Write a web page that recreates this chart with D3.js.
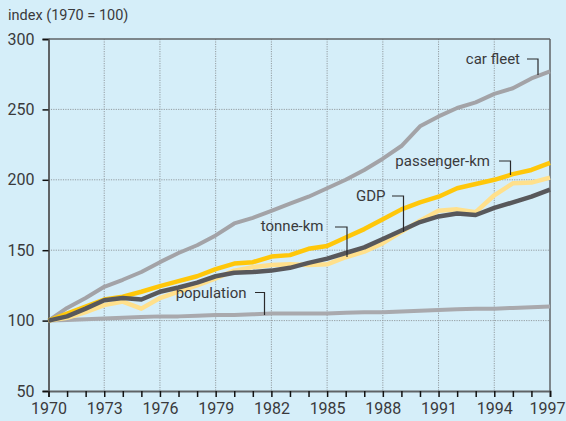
<!DOCTYPE html>
<html><head><meta charset="utf-8">
<script src="https://cdn.jsdelivr.net/npm/d3@7"></script>
<style>
html,body{margin:0;padding:0;background:#d5eef9;}
svg{display:block;}
text{font-family:Roboto,"Open Sans",sans-serif;fill:#3a3a3c;}
</style></head>
<body>
<svg id="chart" width="566" height="421"></svg>
<script>
const years = d3.range(1970, 1998);
const carFleet     = [100,109,116,124,129,134.5,141.5,148,153.5,160.5,169,173,178,183,188,194,200,207,215,224,238,245,251,255,261,265,272,277];
const passengerKm  = [100,105,110,115,117,120.5,124.5,128,131.5,136.5,140.5,141.5,145.5,146.5,151,153,159,165,172,179,184,188,194,197,200,204,207,212];
const gdp          = [100,103,108.5,114.5,116,115,120.5,123.5,127,131.5,134,134.5,135.5,137.5,141,144,148,152,158,164,170,174,176,175,180,184,188,193];
const tonneKm      = [100,102,106,111,113.5,108.5,116,120.5,125,130,135.5,138,139.5,140,139.5,140,145,149,155,163,171,178,179,177,189,197.5,198,201.5];
const population   = [100,100.5,101,101.5,102,102.5,103,103,103.5,104,104,104.5,105,105,105,105,105.5,106,106,106.5,107,107.5,108,108.5,108.5,109,109.5,110];
const yTicks = [50,100,150,200,250,300];
const xTickLabels = [1970,1973,1976,1979,1982,1985,1988,1991,1994,1997];

const svg = d3.select("#chart");
const L = 48.5, R = 550, T = 39, B = 391;
const x = d3.scaleLinear().domain([1970,1997]).range([L,R]);
const y = d3.scaleLinear().domain([50,300]).range([B,T]);

// grid
const g = svg.append("g");
g.selectAll(".hg").data([100,150,200,250]).join("line")
  .attr("x1",L).attr("x2",R).attr("y1",d=>y(d)).attr("y2",d=>y(d))
  .attr("stroke","#939ca1").attr("stroke-width",1).attr("stroke-dasharray","1.2,1.2");
g.selectAll(".vg").data(xTickLabels.slice(1,-1)).join("line")
  .attr("x1",d=>x(d)).attr("x2",d=>x(d)).attr("y1",T).attr("y2",B)
  .attr("stroke","#939ca1").attr("stroke-width",1).attr("stroke-dasharray","1.2,1.2");

// frame
svg.append("line").attr("x1",L).attr("x2",R).attr("y1",T).attr("y2",T).attr("stroke","#5f6366").attr("stroke-width",1.5);
svg.append("line").attr("x1",R).attr("x2",R).attr("y1",T).attr("y2",B).attr("stroke","#5f6366").attr("stroke-width",1.5);

// axes
const yAxis = d3.axisLeft(y).tickValues(yTicks).tickSize(6).tickPadding(8);
const ya = svg.append("g").attr("transform",`translate(${L},0)`).call(yAxis);
ya.select(".domain").attr("stroke","#5f6366").attr("stroke-width",2);
ya.selectAll(".tick line").attr("stroke","#111").attr("stroke-width",1.5);
ya.selectAll(".tick text").attr("font-size",16).attr("fill","#333").style("font-family","Roboto");

const xAxis = d3.axisBottom(x).tickValues(years).tickSize(6).tickPadding(6)
  .tickFormat(d=> xTickLabels.includes(d) ? String(d) : "");
const xa = svg.append("g").attr("transform",`translate(0,${B})`).call(xAxis);
xa.select(".domain").attr("stroke","#5f6366").attr("stroke-width",2);
xa.selectAll(".tick line").attr("stroke","#111").attr("stroke-width",1.5);
xa.selectAll(".tick text").attr("font-size",16).attr("fill","#333").style("font-family","Roboto");
// keep the last year label inside the window
xa.selectAll(".tick text").filter(d=>d===1997).attr("text-anchor","end").attr("dx",15);

svg.append("text").attr("x",8).attr("y",20).attr("font-size",14.5).text("index (1970 = 100)");

// lines
const line = d3.line().x((d,i)=>x(years[i])).y(d=>y(d));
const series = [
  {v:population, c:"#a9a9ad", w:4},
  {v:carFleet, c:"#a3a3a7", w:4},
  {v:tonneKm, c:"#ffe08c", w:4.5},
  {v:passengerKm, c:"#ffc70a", w:4.5},
  {v:gdp, c:"#58585b", w:4.5}
];
svg.selectAll(".ser").data(series).join("path")
  .attr("d",d=>line(d.v)).attr("fill","none")
  .attr("stroke",d=>d.c).attr("stroke-width",d=>d.w)
  .attr("stroke-linejoin","round");

// labels with leaders
const labels = [
  {t:"car fleet", tx:520, ty:64, hx1:527, hx2:538, hy:59, vy:75},
  {t:"passenger-km", tx:490, ty:166, hx1:499, hx2:510.5, hy:161, vy:175},
  {t:"GDP", tx:385.5, ty:201, hx1:392, hx2:403.5, hy:196, vy:232},
  {t:"tonne-km", tx:323.5, ty:231, hx1:335, hx2:347, hy:227, vy:257},
  {t:"population", tx:246.5, ty:298, hx1:255, hx2:264.5, hy:292.5, vy:315}
];
labels.forEach(l=>{
  svg.append("text").attr("x",l.tx).attr("y",l.ty).attr("text-anchor","end")
    .attr("font-size",15).text(l.t);
  svg.append("path").attr("d",`M${l.hx1},${l.hy}H${l.hx2}V${l.vy}`)
    .attr("fill","none").attr("stroke","#2a2a2c").attr("stroke-width",1.2);
});
</script>
</body></html>
